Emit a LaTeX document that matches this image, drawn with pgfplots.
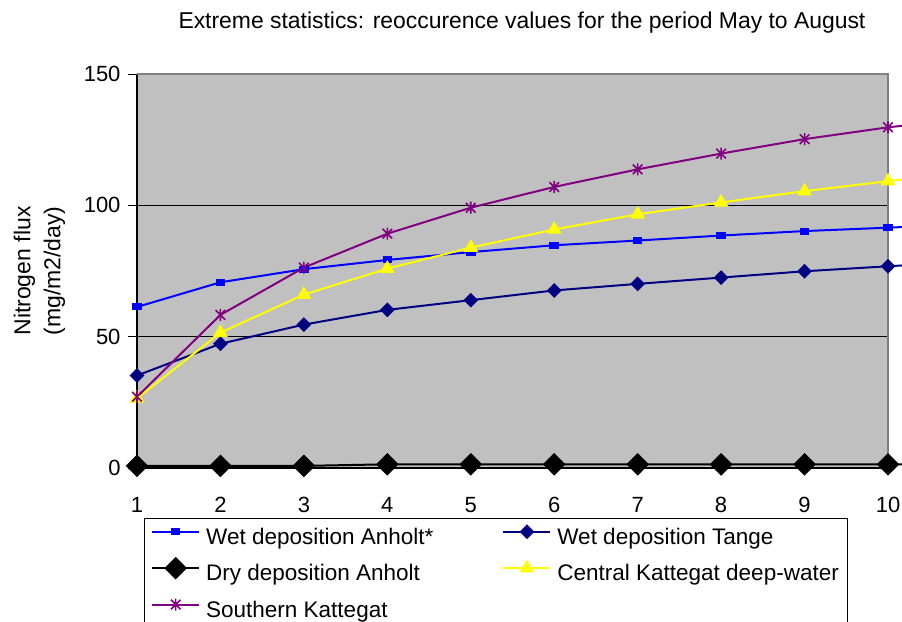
\documentclass[border=0pt]{standalone}
\usepackage{fontspec}
\setmainfont{Liberation Sans}
\usepackage{pgfplots}
\pgfplotsset{compat=1.18}
\definecolor{bggray}{HTML}{C0C0C0}
\definecolor{navyc}{HTML}{000080}
\definecolor{purplec}{HTML}{800080}
\definecolor{bluec}{HTML}{0000FF}
\definecolor{yellowc}{HTML}{FFFF00}
\definecolor{boxgray}{HTML}{808080}
\pgfdeclareplotmark{xstar}{%
 \pgfpathmoveto{\pgfqpoint{0pt}{\pgfplotmarksize}}\pgfpathlineto{\pgfqpoint{0pt}{-\pgfplotmarksize}}%
 \pgfpathmoveto{\pgfqpoint{-0.8\pgfplotmarksize}{0.8\pgfplotmarksize}}\pgfpathlineto{\pgfqpoint{0.8\pgfplotmarksize}{-0.8\pgfplotmarksize}}%
 \pgfpathmoveto{\pgfqpoint{-0.8\pgfplotmarksize}{-0.8\pgfplotmarksize}}\pgfpathlineto{\pgfqpoint{0.8\pgfplotmarksize}{0.8\pgfplotmarksize}}%
 \pgfusepathqstroke}
\begin{document}
\begin{tikzpicture}
\useasboundingbox (0,0) rectangle (902bp,622bp);
\begin{axis}[
  at={(137bp,154bp)}, anchor=south west,
  scale only axis, width=751bp, height=394bp,
  xmin=1, xmax=10, ymin=0, ymax=150,
  clip=false,
  axis x line*=bottom, axis y line*=left,
  axis line style={black, line width=1.2bp, -},
  axis background/.style={fill=bggray},
  xtick={1,...,10}, ytick={0,50,100,150},
  major x tick style={draw=none},
  major y tick style={black, line width=0.8bp},
  tick align=outside, major tick length=9bp,
  ymajorgrids, grid style={black, line width=0.8bp},
  tick label style={font=\fontsize{22bp}{26bp}\selectfont},
  /pgf/number format/assume math mode=true,
  xticklabel style={yshift=-17bp},
  yticklabel style={xshift=-4bp},
  title={Extreme statistics: reoccurence values for the period May to August},
  title style={at={(axis description cs:0.5126,1.115)}, anchor=center, font=\fontsize{22.9bp}{27bp}\selectfont},
  ylabel={Nitrogen flux\\(mg/m2/day)},
  ylabel style={at={(axis description cs:-0.1298,0.5)}, anchor=center, align=center, font=\fontsize{23bp}{30bp}\selectfont},
  legend columns=2,
  legend cell align=left,
  legend style={at={(axis description cs:0.0093,-0.127)}, anchor=north west, draw=black, fill=white,
    inner xsep=8bp, inner ysep=4.5bp, row sep=9.9bp,
    font=\fontsize{22.5bp}{27bp}\selectfont,
    nodes={inner sep=0pt, text height=16bp, text depth=5bp},
    /tikz/every odd column/.append style={column sep=7bp},
    /tikz/every even column/.append style={column sep=70bp}},
  legend image code/.code={\path[draw=none, fill=none, use as bounding box] (0bp,-5bp) rectangle (47bp,16bp);
    \draw[mark repeat=2, mark phase=2] plot coordinates {(0bp,7bp) (23.5bp,7bp) (47bp,7bp)};},
]
\draw[boxgray, line width=1.2bp] (rel axis cs:0,1) -- (rel axis cs:1,1) -- (rel axis cs:1,0);
\addplot[bluec, line width=2bp, mark=square*, mark size=2.5bp, mark options={xscale=1.5, solid}] coordinates {
(1,61.3) (2,70.7) (3,75.7) (4,79.2) (5,82.2) (6,84.8) (7,86.6) (8,88.5) (9,90.2) (10,91.5) (11,92.8)};
\addlegendentry{Wet deposition Anholt*}
\addplot[navyc, line width=2bp, mark=square*, mark size=4.2bp, mark options={rotate=45, solid}] coordinates {
(1,35.2) (2,47.3) (3,54.6) (4,60.2) (5,63.9) (6,67.6) (7,70.1) (8,72.5) (9,74.9) (10,76.8) (11,78.6)};
\addlegendentry{Wet deposition Tange}
\addplot[black, line width=2bp, mark=square*, mark size=7bp, mark options={rotate=45, solid}] coordinates {
(1,0.8) (2,0.8) (3,0.8) (4,1.4) (5,1.4) (6,1.4) (7,1.4) (8,1.4) (9,1.4) (10,1.4) (11,1.4)};
\addlegendentry{Dry deposition Anholt}
\addplot[yellowc, line width=2bp, mark=triangle*, mark size=6.5bp, mark options={solid}] coordinates {
(1,26.5) (2,51.5) (3,66.0) (4,75.9) (5,83.9) (6,90.8) (7,96.6) (8,101.1) (9,105.4) (10,109.2) (11,112.8)};
\addlegendentry{Central Kattegat deep-water}
\addplot[purplec, line width=2bp, mark=xstar, mark size=6bp, mark options={solid, line width=1.6bp}] coordinates {
(1,27.1) (2,58.3) (3,76.3) (4,89.2) (5,99.1) (6,107.0) (7,113.7) (8,119.7) (9,125.2) (10,129.7) (11,133.1)};
\addlegendentry{Southern Kattegat}
\end{axis}
\end{tikzpicture}
\end{document}
